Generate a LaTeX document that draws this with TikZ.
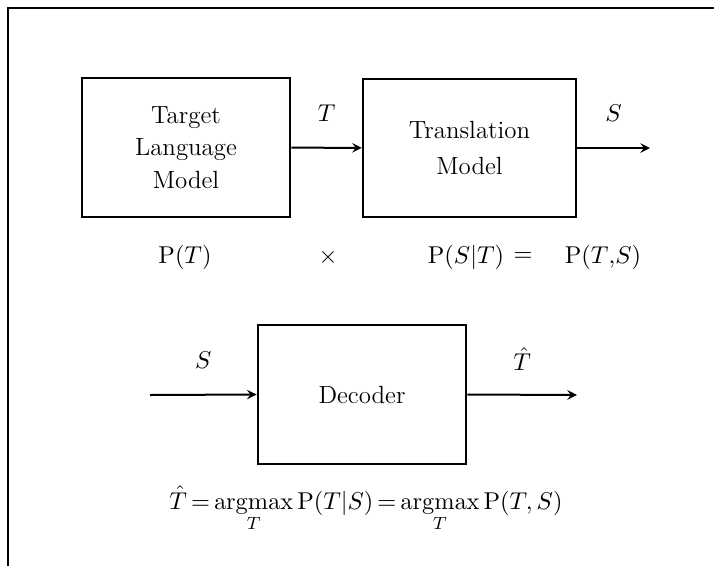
\documentclass[tikz,border=0pt]{standalone}
\usepackage{amsmath}
\usetikzlibrary{arrows}
\tikzset{every picture/.style={>=stealth, line width=0.9pt}}
\tikzset{every node/.style={font=\fontsize{11.2}{13.5}\selectfont}}
\tikzset{block/.style={draw, align=center, inner sep=2pt,
    minimum width=94pt, minimum height=62.5pt}}
\tikzset{signal/.style={->, line width=0.9pt}}
\begin{document}
\begin{tikzpicture}[x=0.45pt, y=-0.45pt]
	\useasboundingbox (0,0) rectangle (714,566);
	% frame, open at right and bottom
	\coordinate (fa) at (8,566);
	\coordinate (fb) at (8,8);
	\coordinate (fc) at (714,8);
	\draw (fa) -- (fb) -- (fc);
	% source-channel model
	\node[block] (lm) at (186,147.5) {Target\\[1pt] Language\\[1pt] Model};
	\node[block, minimum width=96pt] (tm) at (469.5,148) {Translation\\[3pt] Model};
	\coordinate (sout) at (650,148);
	\draw[signal] (lm) -- (tm) node[pos=0.5, above=8pt] {$T$};
	\draw[signal] (tm.east) -- (sout) node[pos=0.5, above=8pt] {$S$};
	\node (pt) at (185,257) {$\mathrm{P}(T)$};
	\node (times) at (328,257) {$\times$};
	\node (pst) at (466,257) {$\mathrm{P}(S|T)$};
	\node (eq) at (523,257) {$=$};
	\node (pts) at (603,257) {$\mathrm{P}(T{,}S)$};
	% decoder
	\node[block] (dec) at (362,394.5) {Decoder};
	\coordinate (sin) at (150,395);
	\coordinate (tout) at (577,395);
	\draw[signal] (sin) -- (dec.west) node[pos=0.5, above=8pt] {$S$};
	\draw[signal] (dec.east) -- (tout) node[pos=0.5, above=7pt] {$\hat{T}$};
	\node[anchor=base] (argm) at (366,509)
		{$\displaystyle \hat{T}\,{=}\operatorname*{argmax}_T \mathrm{P}(T|S)
		 \,{=}\operatorname*{argmax}_T \mathrm{P}(T,S)$};
\end{tikzpicture}
\end{document}
